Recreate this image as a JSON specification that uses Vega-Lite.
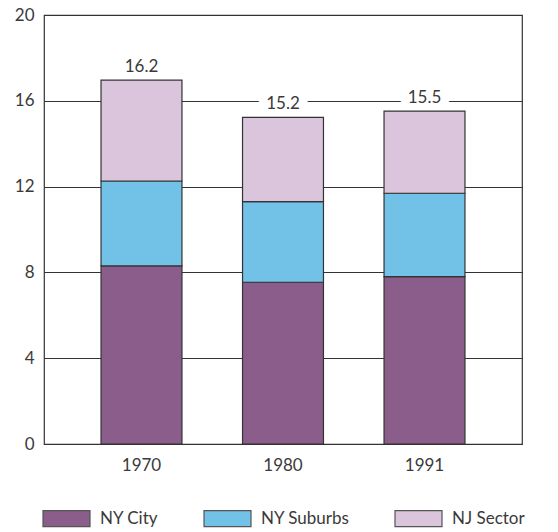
{
  "$schema": "https://vega.github.io/schema/vega-lite/v6.json",
  "width": 478,
  "height": 429,
  "autosize": {"type": "none"},
  "padding": {"left": 44, "top": 15, "right": 36, "bottom": 88},
  "background": "white",
  "config": {
    "font": "Lato",
    "view": {"stroke": "#333333", "strokeWidth": 1.2},
    "axis": {"labelFont": "Lato", "labelFontSize": 17, "labelColor": "#3a3a3a"}
  },
  "datasets": {
    "parts": [
      {"year": "1970", "region": "NY City", "rank": 1, "value": 8.3},
      {"year": "1970", "region": "NY Suburbs", "rank": 2, "value": 3.96},
      {"year": "1970", "region": "NJ Sector", "rank": 3, "value": 4.7},
      {"year": "1980", "region": "NY City", "rank": 1, "value": 7.54},
      {"year": "1980", "region": "NY Suburbs", "rank": 2, "value": 3.76},
      {"year": "1980", "region": "NJ Sector", "rank": 3, "value": 3.93},
      {"year": "1991", "region": "NY City", "rank": 1, "value": 7.8},
      {"year": "1991", "region": "NY Suburbs", "rank": 2, "value": 3.89},
      {"year": "1991", "region": "NJ Sector", "rank": 3, "value": 3.83}
    ],
    "totals": [
      {"year": "1970", "total": 16.96, "label": "16.2"},
      {"year": "1980", "total": 15.23, "label": "15.2"},
      {"year": "1991", "total": 15.52, "label": "15.5"}
    ]
  },
  "encoding": {
    "x": {
      "field": "year", "type": "nominal",
      "scale": {"paddingInner": 0.428, "paddingOuter": 0.403},
      "axis": {"title": null, "labelAngle": 0, "ticks": false, "domain": false, "labelPadding": 13, "grid": false}
    }
  },
  "layer": [
    {
      "data": {"name": "totals"},
      "mark": {"type": "text", "baseline": "bottom", "dy": -4, "fontSize": 17, "font": "Lato", "stroke": "white", "strokeWidth": 18, "strokeJoin": "round", "fill": "white"},
      "encoding": {
        "y": {"field": "total", "type": "quantitative"},
        "text": {"field": "label"}
      }
    },
    {
      "data": {"name": "parts"},
      "mark": {"type": "bar", "stroke": "#333333", "strokeWidth": 1.2},
      "encoding": {
        "y": {
          "field": "value", "type": "quantitative", "stack": "zero",
          "scale": {"domain": [0, 20], "nice": false},
          "axis": {"title": null, "values": [0, 4, 8, 12, 16, 20], "ticks": false, "domain": false, "labelPadding": 10, "grid": true, "gridColor": "#333333", "gridWidth": 1.2, "gridOpacity": 1}
        },
        "color": {
          "field": "region", "type": "nominal",
          "sort": ["NY City", "NY Suburbs", "NJ Sector"],
          "scale": {"domain": ["NY City", "NY Suburbs", "NJ Sector"], "range": ["#8b5d8b", "#72c2e8", "#dac5dc"]},
          "legend": {
            "title": null, "orient": "none", "direction": "horizontal",
            "legendX": -2, "legendY": 479,
            "symbolType": "M-1,-0.34H1V0.34H-1Z", "symbolSize": 2209,
            "symbolStrokeColor": "#555555", "symbolStrokeWidth": 1.2, "symbolOpacity": 1,
            "labelFontSize": 17, "labelFont": "Lato", "labelColor": "#3a3a3a", "labelOffset": 9,
            "columnPadding": 42
          }
        },
        "order": {"field": "rank", "type": "quantitative", "sort": "ascending"}
      }
    },
    {
      "data": {"name": "totals"},
      "mark": {"type": "text", "baseline": "bottom", "dy": -4, "fontSize": 17, "font": "Lato", "color": "#3a3a3a"},
      "encoding": {
        "y": {"field": "total", "type": "quantitative"},
        "text": {"field": "label"}
      }
    }
  ]
}
